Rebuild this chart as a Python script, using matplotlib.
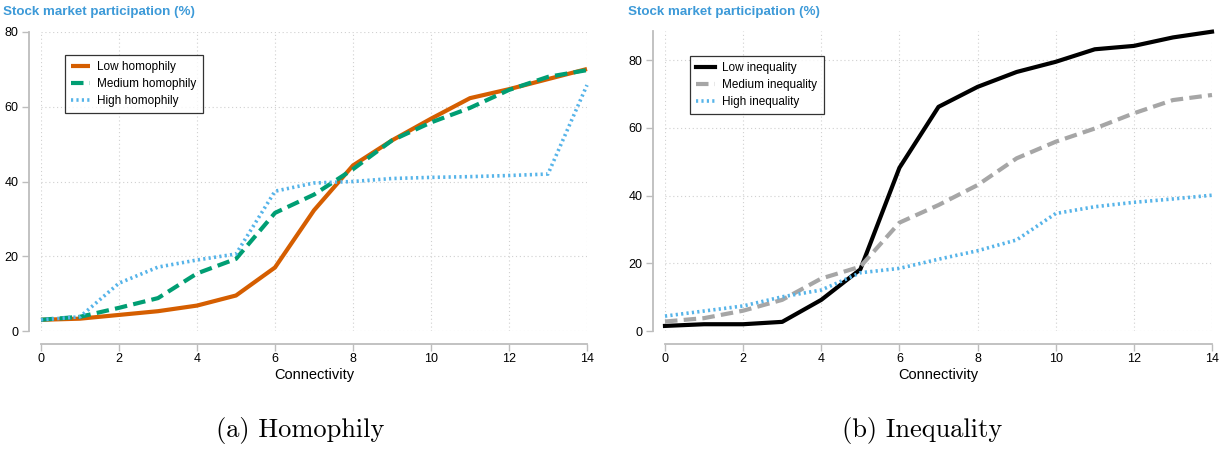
import numpy as np
import matplotlib.pyplot as plt

# Connectivity grid
conn = np.arange(0, 15)

# Panel (a): participation by homophily level
low_homo = [3.0, 3.3, 4.3, 5.3, 6.8, 9.5, 17.0, 32.3, 44.3, 51.0, 56.8, 62.3, 64.7, 67.4, 70.1]
med_homo = [3.0, 3.8, 6.2, 8.8, 15.4, 19.3, 31.6, 36.5, 43.3, 51.0, 55.8, 59.7, 64.5, 68.0, 69.8]
high_homo = [3.0, 3.8, 12.8, 17.1, 19.0, 20.6, 37.4, 39.6, 40.0, 40.8, 41.1, 41.3, 41.6, 42.0, 65.8]

# Panel (b): participation by inequality level
low_ineq = [1.5, 2.0, 2.0, 2.7, 9.2, 18.2, 48.2, 66.2, 72.1, 76.5, 79.5, 83.2, 84.2, 86.7, 88.4]
med_ineq = [2.8, 3.8, 6.0, 9.2, 15.5, 19.0, 32.0, 37.2, 43.1, 51.0, 55.9, 59.8, 64.3, 68.2, 69.7]
high_ineq = [4.4, 5.9, 7.4, 10.1, 12.1, 17.2, 18.5, 21.2, 23.7, 26.9, 34.7, 36.7, 38.0, 39.0, 40.1]

plt.rcParams['font.family'] = ['Liberation Sans', 'DejaVu Sans']

W, H = 1225, 449
fig = plt.figure(figsize=(W / 100, H / 100), dpi=100)

def pos(x0, x1, ytop, ybot):
    return [x0 / W, 1 - ybot / H, (x1 - x0) / W, (ybot - ytop) / H]

ax1 = fig.add_axes(pos(41, 587, 32, 331))
ax2 = fig.add_axes(pos(665, 1212, 31, 331))

title_col = '#3d9ad8'
spine_col = '#bdbdbd'

def style(ax, ymax):
    ax.set_xlim(0, 14)
    ax.set_ylim(0, ymax)
    ax.set_xticks(range(0, 15, 2))
    ax.set_yticks(range(0, 81, 20))
    ax.grid(True, color='#d0d0d0', linestyle=(0, (1, 2.5)), linewidth=0.8)
    for s in ['top', 'right']:
        ax.spines[s].set_visible(False)
    ax.spines['left'].set_position(('outward', 9))
    ax.spines['bottom'].set_position(('outward', 9))
    for s in ['left', 'bottom']:
        ax.spines[s].set_color(spine_col)
        ax.spines[s].set_linewidth(1.3)
    ax.tick_params(direction='out', length=5, width=1, color=spine_col,
                   labelsize=9, pad=2)
    ax.set_xlabel('Connectivity', fontsize=10.5, labelpad=2)

ax1.plot(conn, low_homo, color='#d55e00', lw=3, solid_capstyle='butt', label='Low homophily', clip_on=False)
ax1.plot(conn, med_homo, color='#009e73', lw=3, ls=(0, (3, 1.5)), label='Medium homophily', clip_on=False)
ax1.plot(conn, high_homo, color='#56b4e9', lw=2.6, ls=(0, (0.6, 0.9)), label='High homophily', clip_on=False)
style(ax1, 80)

ax2.plot(conn, low_ineq, color='black', lw=3, label='Low inequality', clip_on=False)
ax2.plot(conn, med_ineq, color='#a6a6a6', lw=3, ls=(0, (3, 1.5)), label='Medium inequality', clip_on=False)
ax2.plot(conn, high_ineq, color='#56b4e9', lw=2.6, ls=(0, (0.6, 0.9)), label='High inequality', clip_on=False)
style(ax2, 88.6)

for ax, anchor in [(ax1, (65 / W, 1 - 55 / H)), (ax2, (690 / W, 1 - 56 / H))]:
    leg = ax.legend(loc='upper left', bbox_to_anchor=anchor, bbox_transform=fig.transFigure,
                    fontsize=8.5, frameon=True, fancybox=False, handlelength=1.6,
                    handletextpad=0.6, borderpad=0.55, labelspacing=0.4, borderaxespad=0)
    leg.get_frame().set_edgecolor('black')
    leg.get_frame().set_linewidth(0.9)

fig.text(3 / W, 1 - 12 / H, 'Stock market participation (%)', color=title_col,
         fontsize=9.6, fontweight='bold', va='center', ha='left')
fig.text(628 / W, 1 - 12 / H, 'Stock market participation (%)', color=title_col,
         fontsize=9.6, fontweight='bold', va='center', ha='left')

fig.text(300 / W, 1 - 431 / H, '(a) Homophily', family='cmr10', fontsize=19,
         ha='center', va='center')
fig.text(922 / W, 1 - 431 / H, '(b) Inequality', family='cmr10', fontsize=19,
         ha='center', va='center')

plt.savefig('out.png', dpi=100)
